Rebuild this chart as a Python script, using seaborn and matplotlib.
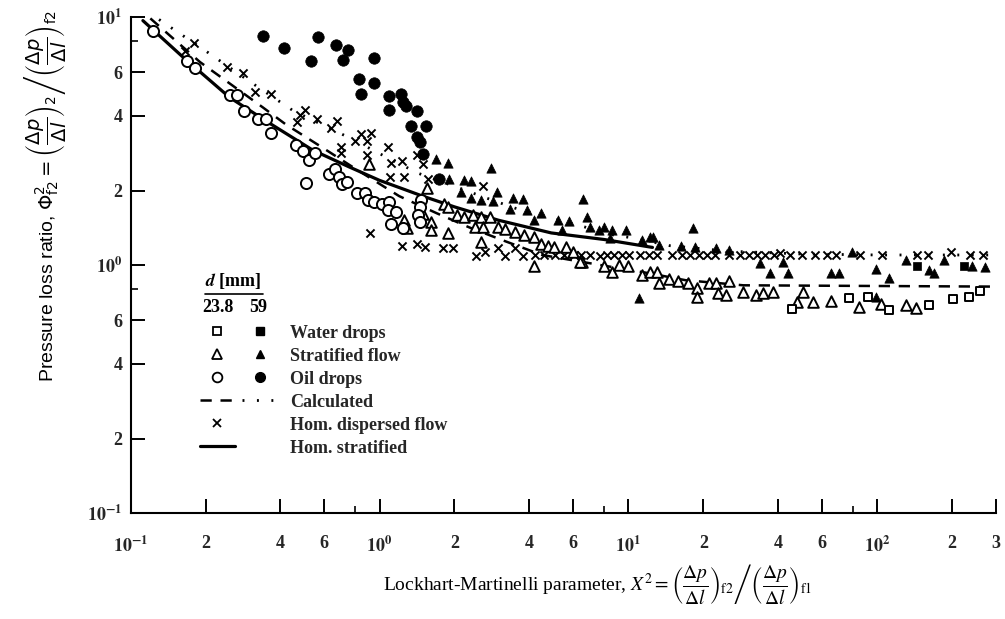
import matplotlib
matplotlib.use("Agg")
import matplotlib.pyplot as plt
import seaborn as sns
from matplotlib.lines import Line2D
from matplotlib.legend_handler import HandlerTuple

# ---------------- data ----------------
# Oil drops, d = 23.8 mm (open circles)
oil_s_x = [0.123, 0.169, 0.182, 0.25, 0.267, 0.286, 0.326, 0.351, 0.365, 0.461, 0.492, 0.52, 0.553,
           0.505, 0.628, 0.662, 0.687, 0.709, 0.738, 0.815, 0.873, 0.895, 0.951, 1.02, 1.09, 1.08,
           1.16, 1.11, 1.24, 1.47, 1.45, 1.43, 1.46]
oil_s_y = [8.8, 6.65, 6.25, 4.84, 4.84, 4.18, 3.88, 3.88, 3.41, 3.05, 2.89, 2.67, 2.84,
           2.15, 2.34, 2.45, 2.27, 2.13, 2.17, 1.96, 1.95, 1.84, 1.80, 1.77, 1.80, 1.67,
           1.64, 1.46, 1.41, 1.84, 1.71, 1.60, 1.49]
# Oil drops, d = 59 mm (filled circles)
oil_l_x = [0.34, 0.412, 0.532, 0.564, 0.668, 0.716, 0.747, 0.946, 0.828, 0.846, 0.946, 1.09, 1.09,
           1.22, 1.24, 1.28, 1.41, 1.34, 1.54, 1.42, 1.46, 1.49, 1.74]
oil_l_y = [8.37, 7.55, 6.67, 8.33, 7.76, 6.71, 7.41, 6.84, 5.66, 4.92, 5.43, 4.82, 4.24,
           4.89, 4.56, 4.39, 4.19, 3.65, 3.65, 3.29, 3.14, 2.82, 2.22]
# Water drops
water_s_x = [45.6, 77, 91.4, 112, 161, 201, 233, 258]
water_s_y = [0.668, 0.738, 0.744, 0.659, 0.69, 0.73, 0.744, 0.787]
water_l_x = [145, 224]
water_l_y = [0.99, 0.99]
# Stratified flow, 23.8 mm (open triangles)
strat_s_x = [0.91, 1.55, 1.49, 1.82, 1.26, 1.29, 1.61, 1.61, 1.88, 1.88, 2.04, 2.18, 2.38, 2.55, 2.77,
             2.41, 2.6, 3.0, 3.2, 3.49, 3.81, 4.17, 4.47, 4.74, 5.02, 5.6, 5.97, 6.5, 2.55, 4.17,
             6.4, 7.95, 8.6, 9.2, 10.0, 11.3, 12.2, 13.0, 13.3, 14.5, 15.8, 17.4, 18.9, 18.9, 21.0,
             22.4, 23.0, 24.6, 25.3, 28.8, 32.7, 34.9, 38.3, 47.5, 50.5, 55.4, 65.4, 84.4, 104,
             131, 143]
strat_s_y = [2.57, 2.04, 1.61, 1.77, 1.52, 1.41, 1.50, 1.39, 1.71, 1.35, 1.59, 1.56, 1.59, 1.57, 1.57,
             1.43, 1.43, 1.43, 1.40, 1.36, 1.32, 1.30, 1.22, 1.20, 1.18, 1.18, 1.13, 1.03, 1.24, 0.995,
             1.03, 0.99, 0.94, 1.0, 0.99, 0.91, 0.94, 0.94, 0.85, 0.88, 0.86, 0.85, 0.81, 0.745, 0.85,
             0.85, 0.77, 0.76, 0.86, 0.78, 0.76, 0.77, 0.78, 0.71, 0.78, 0.71, 0.72, 0.68, 0.70,
             0.69, 0.67]
# Stratified flow, 59 mm (filled triangles)
strat_l_x = [1.69, 1.88, 1.91, 2.18, 2.34, 2.8, 2.12, 2.34, 2.55, 2.96, 2.86, 3.43, 3.78, 3.33, 3.9,
             4.47, 4.17, 5.2, 5.8, 5.4, 6.6, 6.8, 7.0, 7.6, 8.0, 8.6, 8.4, 9.8, 11.3, 12.2, 12.6,
             13.3, 16.3, 18.2, 18.5, 22.4, 25.3, 33.7, 37, 41.9, 44, 11.0, 65.4, 70.3, 78.9, 99,
             112, 130, 162, 169, 186, 241, 272, 99]
strat_l_y = [2.69, 2.59, 2.22, 2.2, 2.18, 2.46, 1.98, 1.86, 1.84, 1.98, 1.81, 1.86, 1.85, 1.68, 1.67,
             1.62, 1.52, 1.52, 1.51, 1.39, 1.85, 1.57, 1.43, 1.39, 1.43, 1.39, 1.29, 1.39, 1.26, 1.30, 1.30,
             1.21, 1.20, 1.41, 1.19, 1.17, 1.15, 1.02, 0.93, 1.03, 0.93, 0.74, 0.93, 0.93, 1.13, 0.97,
             0.89, 1.05, 0.96, 0.93, 1.05, 0.99, 0.98, 0.745]
# Homogeneous dispersed flow (x)
hom_x = [0.166, 0.18, 0.244, 0.284, 0.317, 0.368, 0.467, 0.478, 0.503, 0.562, 0.636, 0.675, 0.699, 0.699,
         0.80, 0.845, 0.923, 0.89, 0.89, 1.08, 1.11, 1.23, 1.42, 1.49, 1.1, 1.26, 1.57, 2.6, 0.92,
         1.23, 1.41, 1.52, 1.8, 1.98, 2.45, 2.65, 3.0, 3.2, 3.49, 3.77,
         4.2, 4.6, 5.06, 5.5, 6.07, 6.47, 6.98, 7.66, 8.17, 8.72, 9.39, 10.1, 11.1, 12.1, 13.0, 15.0,
         16.4, 17.7, 19.2, 20.7, 22.3, 25.4, 28.1, 30.6, 32.9, 35.4, 38.5, 40.7, 44.8, 50, 56.4, 63,
         68, 85, 105, 145, 160, 197, 235, 266]
hom_y = [7.31, 7.89, 6.28, 5.94, 4.98, 4.92, 3.78, 4.03, 4.22, 3.88, 3.59, 3.83, 3.0, 2.83,
         3.16, 3.39, 3.41, 3.16, 2.78, 3.0, 2.59, 2.63, 2.78, 2.57, 2.28, 2.27, 2.22, 2.09, 1.35,
         1.2, 1.22, 1.18, 1.17, 1.17, 1.09, 1.13, 1.17, 1.09, 1.17, 1.09,
         1.10, 1.10, 1.10, 1.10, 1.10, 1.10, 1.10, 1.09, 1.10, 1.10, 1.10, 1.10, 1.10, 1.10, 1.10, 1.10,
         1.10, 1.10, 1.10, 1.10, 1.10, 1.10, 1.10, 1.10, 1.10, 1.10, 1.10, 1.12, 1.10, 1.10, 1.10, 1.10,
         1.10, 1.10, 1.10, 1.10, 1.10, 1.13, 1.10, 1.10]
# Homogeneous stratified model (solid)
homstr_x = [0.112, 0.16, 0.25, 0.36, 0.54, 0.75, 1.0, 1.47, 2.0, 3.0, 4.9, 8.0, 12.5]
homstr_y = [9.7, 7.0, 4.75, 3.75, 2.91, 2.5, 2.2, 1.91, 1.72, 1.52, 1.35, 1.27, 1.18]
# Calculated, 23.8 mm (dashed)
calc_s_x = [0.12, 0.19, 0.34, 0.42, 0.6, 0.8, 1.2, 1.7, 2.3, 3.2, 4.5, 7.8, 12, 17, 29, 300]
calc_s_y = [9.9, 6.6, 4.33, 3.7, 2.95, 2.45, 1.9, 1.62, 1.42, 1.25, 1.1, 1.0, 0.93, 0.87, 0.83, 0.82]
# Calculated, 59 mm (dotted)
calc_l_x = [0.13, 0.155, 0.205, 0.31, 0.45, 0.79, 0.98, 1.43, 1.9, 2.8, 3.5, 6.3, 8.8, 10.4, 14.6, 25, 50, 100, 300]
calc_l_y = [9.8, 8.7, 7.2, 5.4, 4.2, 3.2, 2.85, 2.35, 2.12, 1.84, 1.70, 1.45, 1.32, 1.29, 1.20, 1.14, 1.11, 1.10, 1.10]

# tick positions / labels
x_ticks = [0.1, 0.2, 0.4, 0.6, 1, 2, 4, 6, 10, 20, 40, 60, 100, 200, 300]
x_labels = [r"$\mathbf{10^{-1}}$", "2", "4", "6", r"$\mathbf{10^{0}}$", "2", "4", "6",
            r"$\mathbf{10^{1}}$", "2", "4", "6", r"$\mathbf{10^{2}}$", "2", "3"]
x_minor = [0.8, 8, 80]
y_ticks = [0.1, 0.2, 0.4, 0.6, 1, 2, 4, 6, 10]
y_labels = [r"$\mathbf{10^{-1}}$", "2", "4", "6", r"$\mathbf{10^{0}}$", "2", "4", "6", r"$\mathbf{10^{1}}$"]
y_minor = [0.8, 8]

legend_labels = ["Water drops", "Stratified flow", "Oil drops", "Calculated",
                 "Hom. dispersed flow", "Hom. stratified"]

# ---------------- style ----------------
sns.set_theme(style="ticks")
plt.rcParams["font.family"] = ["Liberation Serif", "DejaVu Serif"]
plt.rcParams["mathtext.fontset"] = "stix"
plt.rcParams["axes.linewidth"] = 1.5

fig = plt.figure(figsize=(10.05, 6.19), dpi=100)
ax = fig.add_axes([0.130, 0.171, 0.861, 0.801])
ax.set_xscale("log")
ax.set_yscale("log")

K = "black"
# lines
sns.lineplot(x=homstr_x, y=homstr_y, ax=ax, color=K, lw=2.3, estimator=None, zorder=2)
sns.lineplot(x=calc_s_x, y=calc_s_y, ax=ax, color=K, lw=1.8, estimator=None,
             linestyle=(0, (4.5, 3.5)), zorder=2)
sns.lineplot(x=calc_l_x, y=calc_l_y, ax=ax, color=K, lw=2.0, estimator=None,
             linestyle=(0, (0.7, 4.5)), zorder=2)

# scatter
sns.scatterplot(x=hom_x, y=hom_y, ax=ax, marker="x", s=34, color=K, linewidth=1.4, zorder=3)
sns.scatterplot(x=strat_l_x, y=strat_l_y, ax=ax, marker="^", s=45, color=K, edgecolor=K, linewidth=0.5, zorder=3)
sns.scatterplot(x=oil_l_x, y=oil_l_y, ax=ax, marker="o", s=68, color=K, edgecolor=K, linewidth=0.5, zorder=3)
sns.scatterplot(x=water_l_x, y=water_l_y, ax=ax, marker="s", s=34, color=K, edgecolor=K, linewidth=0.5, zorder=3)
sns.scatterplot(x=strat_s_x, y=strat_s_y, ax=ax, marker="^", s=58, facecolor="white", edgecolor=K, linewidth=1.4, zorder=4)
sns.scatterplot(x=oil_s_x, y=oil_s_y, ax=ax, marker="o", s=64, facecolor="white", edgecolor=K, linewidth=1.4, zorder=4)
sns.scatterplot(x=water_s_x, y=water_s_y, ax=ax, marker="s", s=34, facecolor="white", edgecolor=K, linewidth=1.4, zorder=4)

ax.set_xlim(0.1, 300)
ax.set_ylim(0.1, 10)

tick_font = dict(fontsize=13, fontweight="bold")
ax.set_xticks(x_ticks, labels=x_labels, **tick_font)
ax.set_xticks(x_minor, minor=True, labels=[""] * len(x_minor))
ax.set_yticks(y_ticks, labels=y_labels, **tick_font)
ax.set_yticks(y_minor, minor=True, labels=[""] * len(y_minor))
ax.tick_params(which="major", direction="in", length=10, width=1.4, color=K)
ax.tick_params(which="minor", direction="in", length=5, width=1.2, color=K)
ax.tick_params(axis="x", which="major", pad=16)
ax.tick_params(axis="y", which="major", pad=6)
sns.despine(ax=ax)
for sp in ax.spines.values():
    sp.set_color(K)
    sp.set_linewidth(1.5)

ax.set_xlabel(r"Lockhart-Martinelli parameter, $X^2 = \left(\dfrac{\Delta p}{\Delta l}\right)_{\rm f2}"
              r"\left/\left(\dfrac{\Delta p}{\Delta l}\right)_{\rm f1}\right.$",
              fontsize=14, color=K)
ax.xaxis.set_label_coords(0.540, -0.098)
ax.set_ylabel(r"Pressure loss ratio, $\Phi^2_{\rm f2} = \left(\dfrac{\Delta p}{\Delta l}\right)_2"
              r"\left/\left(\dfrac{\Delta p}{\Delta l}\right)_{\rm f2}\right.$",
              fontsize=14, color=K, family=["Liberation Sans", "DejaVu Sans"],
              math_fontfamily="dejavusans")
ax.yaxis.set_label_coords(-0.072, 0.640)

# legend
open_kw = dict(ls="none", mfc="white", mec=K, mew=1.3)
fill_kw = dict(ls="none", mfc=K, mec=K)
blank = Line2D([], [], ls="none")
handles = [
    (Line2D([], [], marker="s", ms=6, **open_kw), Line2D([], [], marker="s", ms=6, **fill_kw)),
    (Line2D([], [], marker="^", ms=7, **open_kw), Line2D([], [], marker="^", ms=6, **fill_kw)),
    (Line2D([], [], marker="o", ms=7, **open_kw), Line2D([], [], marker="o", ms=7, **fill_kw)),
    (Line2D([], [], color=K, lw=1.8, ls=(0, (4.5, 3.5))), Line2D([], [], color=K, lw=2.0, ls=(0, (0.7, 4.5)))),
    (Line2D([], [], marker="x", ms=6, ls="none", color=K, mew=1.3), blank),
    (Line2D([], [], color=K, lw=2.3), blank),
]
ax.legend(handles, legend_labels, loc="upper left", bbox_to_anchor=(0.080, 0.380),
          frameon=False, handlelength=4.3, handletextpad=0.7, labelspacing=0.33,
          borderpad=0, borderaxespad=0, numpoints=1,
          handler_map={tuple: HandlerTuple(ndivide=2, pad=0.4)},
          prop={"family": "Liberation Serif", "weight": "bold", "size": 13})
ax.text(0.118, 0.468, r"$\mathbfit{d}$ [mm]", transform=ax.transAxes, ha="center", va="center",
        fontsize=13, fontweight="bold", color=K)
ax.plot([0.086, 0.153], [0.443, 0.443], transform=ax.transAxes, color=K, lw=1.2, clip_on=False)
ax.text(0.101, 0.414, "23.8", transform=ax.transAxes, ha="center", va="center",
        fontsize=13, fontweight="bold", color=K)
ax.text(0.147, 0.414, "59", transform=ax.transAxes, ha="center", va="center",
        fontsize=13, fontweight="bold", color=K)

fig.savefig("out.png", dpi=100, facecolor="white")
